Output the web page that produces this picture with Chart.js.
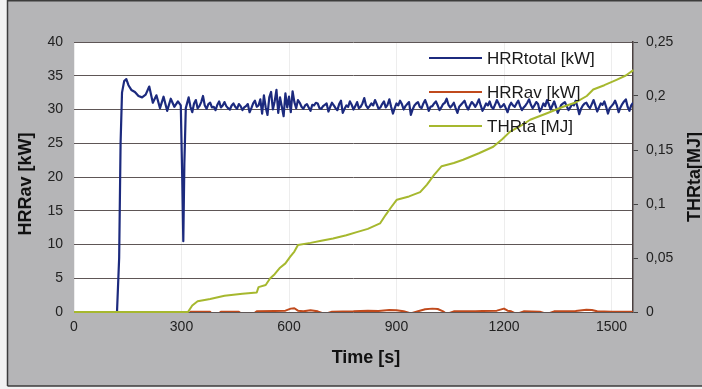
<!DOCTYPE html>
<html>
<head>
<meta charset="utf-8">
<script src="https://cdn.jsdelivr.net/npm/chart.js@4.4.1/dist/chart.umd.min.js"></script>
<style>
  html, body { margin: 0; padding: 0; background: #f2f2f2; }
  #wrap { width: 702px; height: 389px; }
</style>
</head>
<body>
<div id="wrap"><canvas id="heatChart" width="702" height="389"></canvas></div>
<script>
// HRRtotal [kW]: ignition, peak and the flame-out dip
const hrrStartTime = [0, 120, 126, 130, 134, 140, 146, 152, 160, 170, 180, 190, 200, 210, 220, 230, 240, 250, 260, 270, 280, 290, 298, 302, 305, 308, 312];
const hrrStart = [0, 0, 8, 25, 32.5, 34.2, 34.5, 33.6, 32.9, 32.6, 32.0, 31.8, 32.2, 33.4, 31.0, 32.1, 30.2, 31.9, 29.8, 31.6, 30.4, 31.2, 30.6, 20, 10.5, 22, 30.2];
// HRRtotal [kW]: steady burning, one reading every 5 s from 320 s
const steadyStart = 320;
const steadyStep = 5;
const hrrSteady = [
  31.8, 30.4, 29.6, 30.9, 31.4, 30.2, 30.5, 31.1, 32.0, 30.6, 30.1, 30.8, 31.0, 30.3, 30.4, 29.9, 30.7, 31.2, 30.3, 30.6,
  31.1, 30.5, 30.2, 30.0, 30.6, 30.9, 30.4, 30.1, 30.8, 30.5, 29.9, 30.3, 30.5, 30.8, 29.6, 30.2, 30.9, 31.3, 30.4, 30.6,
  31.5, 29.4, 32.1, 30.3, 29.2, 31.8, 32.6, 30.0, 31.2, 32.9, 29.5, 31.8, 30.4, 29.0, 32.4, 30.3, 31.9, 29.6, 32.7, 31.1,
  30.2, 31.4, 31.0, 30.4, 30.1, 30.6, 30.8, 30.3, 29.8, 30.7, 30.6, 31.0, 30.9, 30.2, 30.1, 30.5, 30.7, 30.9, 29.7, 30.4,
  31.0, 30.6, 30.2, 29.9, 30.8, 31.3, 29.5, 30.1, 30.6, 30.4, 31.2, 30.7, 30.0, 30.5, 31.1, 30.2, 30.4, 30.9, 31.7, 30.6,
  30.2, 30.5, 30.9, 30.6, 31.4, 30.8, 30.1, 30.3, 30.8, 31.2, 30.3, 30.7, 31.5, 30.4, 29.4, 30.2, 30.9, 30.6, 31.3, 30.8,
  30.0, 30.5, 30.8, 31.1, 29.2, 30.0, 30.6, 30.9, 31.1, 30.4, 30.2, 30.9, 31.4, 30.7, 29.8, 30.4, 30.5, 30.9, 31.2, 30.6,
  29.9, 30.3, 30.8, 31.0, 31.6, 30.7, 30.3, 30.6, 31.0, 30.2, 29.5, 30.4, 30.7, 31.0, 31.3, 30.5, 30.0, 30.6, 31.1, 30.8,
  30.4, 30.9, 31.5, 30.6, 29.8, 30.3, 30.9, 30.6, 31.2, 30.4, 30.1, 30.7, 31.4, 30.9, 30.3, 30.5, 30.8, 30.2, 29.6, 30.5,
  31.0, 30.6, 30.4, 30.9, 31.3, 30.5, 29.9, 30.3, 30.6, 31.0, 31.5, 30.7, 30.2, 30.6, 31.1, 30.8, 29.7, 30.2, 30.9, 30.5,
  31.4, 30.8, 30.0, 30.6, 31.2, 30.4, 29.5, 30.1, 30.7, 30.9, 31.1, 30.5, 29.9, 30.3, 30.8, 30.6, 31.3, 30.4, 29.3, 30.1,
  30.6, 30.9, 31.0, 30.5, 30.2, 30.8, 31.4, 30.6, 29.7, 30.3, 30.9, 30.7, 31.2, 30.4, 29.4, 30.2, 30.5, 30.8, 31.3, 30.6,
  29.6, 30.3, 30.8, 31.2, 31.5, 30.4, 29.8, 30.6, 31.0
];

// HRRav [kW], hugging zero (dips below the axis leave gaps)
const avTime = [320, 325, 380, 385, 400, 410, 460, 470, 500, 510, 560, 590, 605, 615, 625, 640, 660, 680, 700, 720, 780, 820, 850, 880, 900, 920, 940, 960, 980,
  1000, 1015, 1030, 1040, 1060, 1120, 1140, 1180, 1200, 1210, 1220, 1235, 1255, 1300, 1320, 1340, 1400, 1430, 1445, 1460, 1500, 1560];
const hrrAv = [-0.5, 0.05, 0.05, -0.4, -0.4, 0.05, 0.05, -0.4, -0.3, 0.1, 0.15, 0.2, 0.5, 0.55, 0.2, 0.1, 0.25, 0.1, -0.3, 0.05, 0.1, 0.2, 0.15, 0.3, 0.25, 0.1, -0.2, 0.1, 0.4,
  0.5, 0.45, 0.1, -0.3, 0.1, 0.1, 0.15, 0.2, 0.5, 0.2, 0.1, -0.3, 0.1, 0.05, -0.3, 0.1, 0.15, 0.35, 0.3, 0.1, 0.05, 0.05];

// THRta [MJ], right axis
const thrTime = [0, 318, 330, 345, 380, 420, 470, 510, 515, 535, 547, 560, 575, 590, 603, 615, 625, 660, 690, 723, 760, 789, 820, 854, 870, 885, 901, 935, 966, 985,
  1005, 1026, 1060, 1086, 1130, 1170, 1195, 1217, 1245, 1273, 1320, 1365, 1400, 1431, 1449, 1480, 1514, 1540, 1561];
const thrTa = [0, 0, 0.006, 0.010, 0.012, 0.015, 0.017, 0.018, 0.023, 0.025, 0.031, 0.035, 0.041, 0.045, 0.051, 0.056, 0.062, 0.064, 0.066, 0.068, 0.071, 0.074, 0.077, 0.082, 0.090, 0.097, 0.104, 0.107, 0.111, 0.118,
  0.127, 0.135, 0.138, 0.141, 0.147, 0.153, 0.160, 0.167, 0.172, 0.178, 0.184, 0.190, 0.194, 0.200, 0.206, 0.210, 0.215, 0.219, 0.224];

const timeTicks = [0, 300, 600, 900, 1200, 1500];
const kwTicks = [0, 5, 10, 15, 20, 25, 30, 35, 40];
const mjTicks = [0, 0.05, 0.1, 0.15, 0.2, 0.25];
const mjTickLabels = ['0', '0,05', '0,1', '0,15', '0,2', '0,25'];

const seriesNames = ['HRRtotal [kW]', 'HRRav [kW]', 'THRta [MJ]'];
const seriesColors = ['#1c2a7e', '#c04a1c', '#a6b82e'];

const FONT = '"Liberation Sans", Arial, sans-serif';

function pts(xs, ys) {
  return xs.map((x, i) => ({ x: x, y: ys[i] }));
}

const hrrPoints = pts(hrrStartTime, hrrStart)
  .concat(hrrSteady.map((v, i) => ({ x: steadyStart + i * steadyStep, y: v })));

function setTicks(list) {
  return function (scale) { scale.ticks = list.map(v => ({ value: v })); };
}

const framePlugin = {
  id: 'frame',
  beforeDraw(chart) {
    const ctx = chart.ctx;
    const a = chart.chartArea;
    ctx.save();
    ctx.fillStyle = '#f2f2f2';
    ctx.fillRect(0, 0, chart.width, chart.height);
    ctx.fillStyle = '#b5b5b7';
    ctx.fillRect(7, 0, chart.width - 7, 386);
    ctx.strokeStyle = '#3c3c3c';
    ctx.lineWidth = 1.5;
    ctx.beginPath();
    ctx.moveTo(7.5, 386); ctx.lineTo(7.5, 0.75); ctx.lineTo(chart.width, 0.75);
    ctx.moveTo(7.5, 386); ctx.lineTo(chart.width, 386);
    ctx.stroke();
    ctx.fillStyle = '#ffffff';
    ctx.fillRect(a.left, a.top, a.right - a.left, a.bottom - a.top);
    ctx.restore();
  },
  afterDraw(chart) {
    const ctx = chart.ctx;
    ctx.save();
    // legend
    ctx.font = '17px ' + FONT;
    ctx.textBaseline = 'middle';
    ctx.textAlign = 'left';
    const rows = [58, 92, 126];
    seriesNames.forEach((name, i) => {
      ctx.strokeStyle = seriesColors[i];
      ctx.lineWidth = 2;
      ctx.beginPath();
      ctx.moveTo(429, rows[i]); ctx.lineTo(482, rows[i]);
      ctx.stroke();
      ctx.fillStyle = '#1a1a1a';
      ctx.fillText(name, 487, rows[i] + 1);
    });
    // axis titles
    ctx.fillStyle = '#111';
    ctx.font = 'bold 18px ' + FONT;
    ctx.textAlign = 'center';
    ctx.textBaseline = 'middle';
    ctx.fillText('Time [s]', 366, 358);
    ctx.save();
    ctx.translate(26, 184);
    ctx.rotate(-Math.PI / 2);
    ctx.fillText('HRRav [kW]', 0, 0);
    ctx.restore();
    ctx.save();
    ctx.translate(695, 177);
    ctx.rotate(-Math.PI / 2);
    ctx.fillText('THRta[MJ]', 0, 0);
    ctx.restore();
    ctx.restore();
  }
};

new Chart(document.getElementById('heatChart').getContext('2d'), {
  type: 'line',
  data: {
    datasets: [
      {
        label: seriesNames[0],
        data: hrrPoints,
        borderColor: seriesColors[0],
        borderWidth: 2.2,
        yAxisID: 'y',
        order: 2
      },
      {
        label: seriesNames[1],
        data: pts(avTime, hrrAv),
        borderColor: seriesColors[1],
        borderWidth: 2,
        yAxisID: 'y',
        order: 1
      },
      {
        label: seriesNames[2],
        data: pts(thrTime, thrTa),
        borderColor: seriesColors[2],
        borderWidth: 2,
        yAxisID: 'y2',
        clip: { left: 0, top: 0, right: 2, bottom: 2 },
        order: 0
      }
    ]
  },
  options: {
    responsive: false,
    animation: false,
    events: [],
    elements: { point: { radius: 0 }, line: { tension: 0, borderJoinStyle: 'round' } },
    layout: { padding: { top: 42, left: 0, right: 0, bottom: 0 } },
    plugins: { legend: { display: false }, tooltip: { enabled: false } },
    scales: {
      x: {
        type: 'linear',
        min: 0,
        max: 1560,
        afterBuildTicks: setTicks(timeTicks),
        afterFit(s) { s.height = 77; },
        grid: { color: 'rgba(0,0,0,0.07)', drawTicks: false },
        border: { display: false },
        ticks: {
          padding: 7,
          color: '#222',
          font: { family: FONT, size: 14 },
          maxRotation: 0,
          callback(v) { return String(v); }
        }
      },
      y: {
        position: 'left',
        min: 0,
        max: 40,
        afterBuildTicks: setTicks(kwTicks),
        afterFit(s) { s.width = 74; },
        grid: { color: '#5e5656', lineWidth: 1, drawTicks: false },
        border: { display: false },
        ticks: { padding: 11, color: '#222', font: { family: FONT, size: 14 } }
      },
      y2: {
        position: 'right',
        min: 0,
        max: 0.25,
        afterBuildTicks: setTicks(mjTicks),
        afterFit(s) { s.width = 69; },
        grid: { drawOnChartArea: false, drawTicks: true, tickLength: 5, color: '#444' },
        border: { display: true, color: '#4a4040', width: 1.5 },
        ticks: {
          padding: 8,
          color: '#222',
          font: { family: FONT, size: 14 },
          callback(v) { return mjTickLabels[mjTicks.indexOf(v)]; }
        }
      }
    }
  },
  plugins: [framePlugin]
});
</script>
</body>
</html>
